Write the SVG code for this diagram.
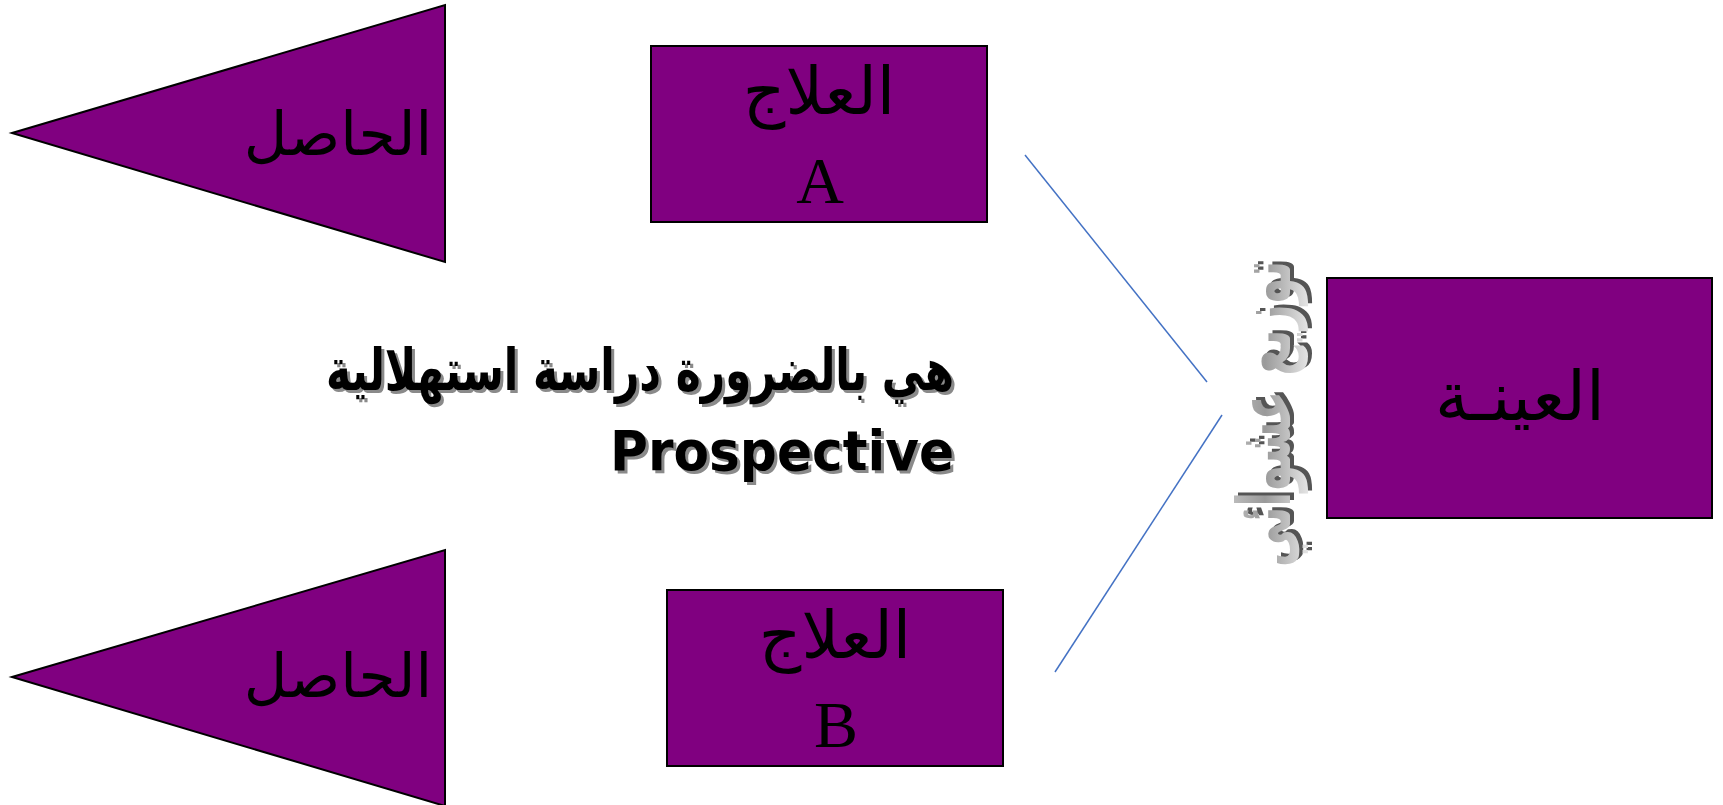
<svg xmlns="http://www.w3.org/2000/svg" width="1723" height="805" viewBox="0 0 1723 805">
  <style>
    .shape { fill: #800080; stroke: #000; stroke-width: 2; }
    .label { fill: #000; font-family: "Liberation Serif", "DejaVu Sans", serif; text-anchor: middle; }
    .link { stroke: #4472C4; stroke-width: 1.5; fill: none; }
    .head { font-family: "DejaVu Sans", sans-serif; font-weight: bold; text-anchor: middle; }
    .shadow { fill: #8a8a8a; }
    .ink { fill: #000; }
    .wa { font-family: "DejaVu Sans", sans-serif; font-weight: bold; text-anchor: middle; }
  </style>
  <defs>
    <linearGradient id="grayArt" x1="0" y1="0" x2="0" y2="1">
      <stop offset="0" stop-color="#c8c8c8"/>
      <stop offset="0.5" stop-color="#9a9a9a"/>
      <stop offset="1" stop-color="#e6e6e6"/>
    </linearGradient>
  </defs>

  <rect width="1723" height="805" fill="#fff"/>

  <!-- connectors -->
  <g id="connectors">
    <line class="link" x1="1025" y1="155" x2="1207" y2="382"/>
    <line class="link" x1="1222" y1="415" x2="1055" y2="672"/>
  </g>

  <!-- outcome pennants -->
  <g id="outcome-top">
    <polygon class="shape" points="12,133 445,5 445,262"/>
    <text class="label" x="338" y="155" font-size="60">الحاصل</text>
  </g>
  <g id="outcome-bottom">
    <polygon class="shape" points="12,677 445,550 445,806"/>
    <text class="label" x="338" y="697" font-size="60">الحاصل</text>
  </g>

  <!-- treatment boxes -->
  <g id="treatment-a">
    <rect class="shape" x="651" y="46" width="336" height="176"/>
    <text class="label" x="819" y="114" font-size="66">العلاج</text>
    <text class="label" x="820" y="203" font-size="66">A</text>
  </g>
  <g id="treatment-b">
    <rect class="shape" x="667" y="590" width="336" height="176"/>
    <text class="label" x="835" y="658" font-size="66">العلاج</text>
    <text class="label" x="836" y="747" font-size="66">B</text>
  </g>

  <!-- sample box -->
  <g id="sample">
    <rect class="shape" x="1327" y="278" width="385" height="240"/>
    <text class="label" x="1520" y="420" font-size="68">العينـة</text>
  </g>

  <!-- randomisation label, set vertically -->
  <g id="randomisation" transform="translate(1290,414) rotate(-90)">
    <text class="wa" x="3" y="4" font-size="74" fill="#555" textLength="306" lengthAdjust="spacingAndGlyphs">توزيع عشوائي</text>
    <text class="wa" x="0" y="0" font-size="74" fill="url(#grayArt)" textLength="306" lengthAdjust="spacingAndGlyphs">توزيع عشوائي</text>
  </g>

  <!-- caption -->
  <g id="caption">
    <text class="head shadow" x="643" y="393" font-size="58" textLength="628" lengthAdjust="spacingAndGlyphs">هي بالضرورة دراسة استهلالية</text>
    <text class="head ink" x="640" y="390" font-size="58" textLength="628" lengthAdjust="spacingAndGlyphs">هي بالضرورة دراسة استهلالية</text>
    <text class="head shadow" x="785" y="473" font-size="56" textLength="344" lengthAdjust="spacingAndGlyphs">Prospective</text>
    <text class="head ink" x="782" y="470" font-size="56" textLength="344" lengthAdjust="spacingAndGlyphs">Prospective</text>
  </g>
</svg>
